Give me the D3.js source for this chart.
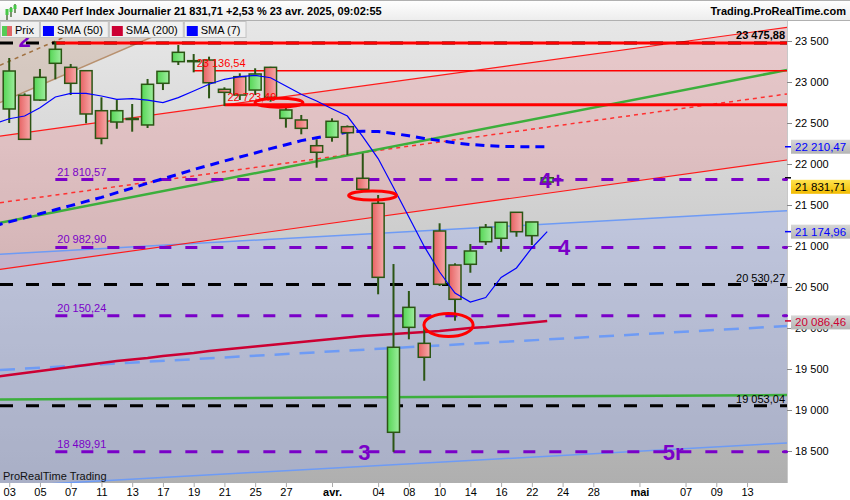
<!DOCTYPE html>
<html><head><meta charset="utf-8">
<script src="https://cdn.jsdelivr.net/npm/d3@7"></script>
<style>
body{margin:0;background:#fff;}
svg{display:block;font-family:"Liberation Sans",Arial,sans-serif;}
</style></head><body>
<svg id="c" width="850" height="500"></svg>
<script>
// ---------- DATA ----------
const opens  = [22671,22838,22780,23228,23179,23138,22650,22512,22555,22476,22984,23248,23260,23268,22911,23065,22902,23179,22557,22537,22223,22326,22455,21826,21521,18728,20008,19813,21183,20768,20777,21052,21094,21411,21126,21780];
const highs  = [23293,22862,23159,23491,23220,23146,22813,22780,22732,23037,23135,23451,23341,23309,22935,23106,23167,23185,22699,22598,22301,22557,22470,22130,21622,20780,20451,19996,21277,20789,21024,21268,21290,21415,21280,21835];
const lows   = [22500,22293,22770,23033,22841,22496,22240,22430,22394,22439,22902,23207,23118,22801,22707,22780,22841,22760,22443,22362,21955,22272,22110,21674,20411,18489.91,19862,19357,20512,20089,20674,21012,20930,21113,21012,21775];
const closes = [23134,22301,23057,23399,22984,22610,22313,22650,22545,22972,23130,23362,23252,22991,22874,22841,23098,22813,22659,22435,22143,22521,22382,21692,20618,19765,20252,19643,20533,20350,20939,21228,21289,21174,21293,21831.71];
// moving averages start one session before the first visible candle
const smaFirstIndex = -1;
const sma7   = [22490,22552,22585,22687,22817,22862,22862,22829,22789,22797,22780,22748,22809,22890,22972,23033,23065,23080,23052,22951,22850,22768,22674,22585,22334,22066,21713,21354,20995,20683,20427,20317,20372,20616,20732,20976,21174.96];
const sma50  = [21244,21294,21343,21394,21443,21492,21544,21593,21651,21706,21765,21820,21874,21933,21984,22037,22085,22134,22187,22235,22285,22320,22354,22390,22399,22396,22372,22344,22312,22285,22257,22238,22224,22215,22212,22211,22210.47];
const sma200 = [19402,19427,19451,19476,19500,19524,19549,19573,19598,19616,19634,19659,19677,19695,19720,19738,19756,19774,19793,19811,19829,19848,19866,19884,19902,19915,19927,19939,19951,19963,19982,20000,20012,20030,20048,20066,20086.46];

const xTickIdx = [0,2,4,6,8,10,12,14,16,18,21,24,26,28,30,32,34,36,38,41,44,46,48];
const xTickLab = ["03","05","07","11","13","17","19","21","25","27","avr.","04","08","10","14","16","22","24","28","mai","07","09","13"];
const monthLabels = ["avr.","mai"];
const yTicks = [23500,23000,22500,22000,21500,21000,20500,20000,19500,19000,18500];

// drawn levels  (value, first session index)
const purpleLevels = [21810.57, 20982.90, 20150.24, 18489.91];
const purpleStart = 3;
const blackLevels = [20530.27, 19053.04];
const redLevels = [23475.88, 23136.54, 22723.49];
const redStarts = [3, 12, 14];
const blackTopLevel = 23475.88;

// trend lines [i0, p0, i1, p1]
const chanTop  = [-0.6, 22341, 50.6, 23667];
const chanMid  = [-0.6, 21528, 50.6, 22854];
const chanBot  = [-0.6, 20716, 50.6, 22049];
const greenTrend = [-0.6, 21284, 50.6, 23146];
const greenFlat  = [-0.6, 19129, 50.6, 19182];
const blueTop  = [-0.6, 20899, 50.6, 21430];
const blueMid  = [-0.6, 19488, 50.6, 20024];
const blueBot  = [-0.6, 18067, 50.6, 18598];
const tanLine  = [-0.6, 22748, 12, 23767];
const brownDash= [-0.6, 23204, 6, 23745];

// ellipses [index, price, half-width in sessions, half-height in points]
const ellipses = [[17.55, 22748, 1.56, 55], [23.64, 21616, 1.56, 55], [28.58, 20037, 1.6, 140]];
// wave labels [index, price, text]
const waveLabels = [[1.0, 23520, "2"], [35.3, 21810.57, "4+"], [36.1, 20982.90, "4"], [23.1, 18489.91, "3"], [43.2, 18489.91, "5r"]];
const prevClose = 21293;

// ---------- SETUP ----------
const plotL=0, plotR=787, plotT=21, plotB=483;
const x = d3.scaleLinear().domain([-0.6, 50.6]).range([plotL, plotR]);
const y = d3.scaleLinear().domain([23500, 18500]).range([41, 451]);
const loc = d3.formatLocale({decimal:",", thousands:" ", grouping:[3], currency:["",""]});
const f2 = loc.format(",.2f"), f0 = loc.format(",.0f");
const PURPLE = "#7a00c8";

const svg = d3.select("#c");
const defs = svg.append("defs");
function lg(id, stops, vertical){
  const g = defs.append("linearGradient").attr("id", id)
    .attr("x1",0).attr("y1",0).attr("x2",vertical?0:1).attr("y2",vertical?1:0);
  stops.forEach(s=>g.append("stop").attr("offset",s[0]).attr("stop-color",s[1]));
}
lg("bgG", [[0,"#e7e7e7"],[1,"#afafaf"]], true);
lg("gG", [[0,"#55d555"],[1,"#9eee9e"]], false);
lg("rG", [[0,"#e66262"],[1,"#f7aaaa"]], false);
lg("titleG", [[0,"#ffffff"],[1,"#ececec"]], true);
lg("boxG", [[0,"#d6d6d6"],[1,"#b4b4b4"]], true);
lg("yelG", [[0,"#ffe34d"],[1,"#f2bb00"]], true);
defs.append("clipPath").attr("id","clip").append("rect")
  .attr("x",plotL).attr("y",plotT).attr("width",plotR-plotL).attr("height",plotB-plotT);

const plot = svg.append("g").attr("clip-path","url(#clip)");
plot.append("rect").attr("x",plotL).attr("y",plotT).attr("width",plotR-plotL).attr("height",plotB-plotT).attr("fill","url(#bgG)");

const line2 = d3.line().x(d=>x(d[0])).y(d=>y(d[1]));
const segPts = s => [[s[0],s[1]],[s[2],s[3]]];

// fills
const topPrice = y.invert(plotT-2);
{
  const s = tanLine;
  const slope = (s[3]-s[1])/(s[2]-s[0]);
  const iEnd = s[0] + (topPrice - s[1])/slope;
  plot.append("path").attr("d", line2([[s[0],s[1]],[iEnd,topPrice],[s[0],topPrice]])+"Z")
    .attr("fill","rgba(180,128,96,0.25)");
}
plot.append("path").attr("d", line2([[chanTop[0],chanTop[1]],[chanTop[2],chanTop[3]],[chanBot[2],chanBot[3]],[chanBot[0],chanBot[1]]])+"Z")
  .attr("fill","rgba(237,137,143,0.30)");
plot.append("path").attr("d", line2([[blueTop[0],blueTop[1]],[blueTop[2],blueTop[3]],[blueBot[2],blueBot[3]],[blueBot[0],blueBot[1]]])+"Z")
  .attr("fill","rgba(155,175,251,0.30)");

function drawSeg(s, color, w, dash){
  plot.append("path").attr("d", line2(segPts(s))).attr("fill","none")
    .attr("stroke",color).attr("stroke-width",w).attr("stroke-dasharray",dash||null);
}
drawSeg(tanLine, "#b8916f", 1.5);
drawSeg(brownDash, "#a0703f", 1.5, "4 4");
drawSeg(blueTop, "#6e9bf5", 1.5);
drawSeg(blueBot, "#6e9bf5", 1.5);
drawSeg(blueMid, "#6e9bf5", 2.5, "15 10");
drawSeg(chanTop, "#ff1a1a", 1.2);
drawSeg(chanBot, "#ff1a1a", 1.2);
drawSeg(chanMid, "#ff3030", 1.5, "4 4");
drawSeg(greenTrend, "#3caf3c", 2.5);
drawSeg(greenFlat, "#3caf3c", 2.5);

// horizontal levels
function hline(v, i0, color, w, dash){
  plot.append("line").attr("x1",x(i0)).attr("x2",plotR).attr("y1",y(v)).attr("y2",y(v))
    .attr("stroke",color).attr("stroke-width",w).attr("stroke-dasharray",dash||null);
}
hline(blackTopLevel, -0.6, "#000", 3, "13 13");
blackLevels.forEach(v=>hline(v, -0.6, "#000", 3, "13 13"));
purpleLevels.forEach(v=>hline(v, purpleStart, PURPLE, 3, "12 14"));
redLevels.forEach((v,k)=>hline(v, redStarts[k], "#ff0000", k===1?1.5:3));

// SMAs under candles
const smaLine = d3.line().x((d,k)=>x(k+smaFirstIndex)).y(d=>y(d));
plot.append("path").attr("d", smaLine(sma200)).attr("fill","none").attr("stroke","#cc0033").attr("stroke-width",2.5);
plot.append("path").attr("d", smaLine(sma50)).attr("fill","none").attr("stroke","#0000ff").attr("stroke-width",3).attr("stroke-dasharray","9 6");

// candles
const WICK = "#2b5514";
const bw = 12;
const cg = plot.append("g");
opens.forEach((o,i)=>{
  const c = closes[i], up = c >= o;
  const cx = x(i);
  cg.append("line").attr("x1",cx).attr("x2",cx).attr("y1",y(highs[i])).attr("y2",y(lows[i]))
    .attr("stroke",WICK).attr("stroke-width",2);
  const yt = y(Math.max(o,c)), yb = y(Math.min(o,c));
  cg.append("rect").attr("x",cx-bw/2).attr("y",yt).attr("width",bw).attr("height",Math.max(1,yb-yt))
    .attr("fill", up?"url(#gG)":"url(#rG)").attr("stroke",WICK).attr("stroke-width",1.5);
});

plot.append("path").attr("d", smaLine(sma7)).attr("fill","none").attr("stroke","#0000ff").attr("stroke-width",1.2);

// ellipses
ellipses.forEach(e=>{
  plot.append("ellipse").attr("cx",x(e[0])).attr("cy",y(e[1]))
    .attr("rx",x(e[0]+e[2])-x(e[0])).attr("ry",y(e[1]-e[3])-y(e[1]))
    .attr("fill","none").attr("stroke","#ff0000").attr("stroke-width",3);
});

// level labels
purpleLevels.forEach(v=>{
  plot.append("text").attr("x",x(purpleStart)+2).attr("y",y(v)-4).attr("font-size",11).attr("fill",PURPLE).text(f2(v));
});
redLevels.forEach((v,k)=>{
  if(k===0) return;
  plot.append("text").attr("x",x(redStarts[k])+3).attr("y",y(v)-4).attr("font-size",11).attr("fill","#ff0000").text(f2(v));
});
plot.append("text").attr("x",785).attr("y",y(redLevels[0])-4).attr("text-anchor","end").attr("font-size",11).attr("font-weight","bold").attr("fill","#000").text(f2(redLevels[0]));
blackLevels.forEach(v=>{
  plot.append("text").attr("x",785).attr("y",y(v)-3).attr("text-anchor","end").attr("font-size",11).attr("fill","#000").text(f2(v));
});
waveLabels.forEach(w=>{
  plot.append("text").attr("x",x(w[0])).attr("y",y(w[1])+8).attr("text-anchor","middle")
    .attr("font-size",22).attr("font-weight","bold").attr("fill",PURPLE).text(w[2]);
});
plot.append("text").attr("x",3).attr("y",480).attr("font-size",11).attr("fill","#111").text("ProRealTime Trading");

// ---------- AXES ----------
svg.append("rect").attr("x",plotR).attr("y",plotT).attr("width",850-plotR).attr("height",plotB-plotT+17).attr("fill","#fff");
svg.append("rect").attr("x",0).attr("y",plotB).attr("width",850).attr("height",500-plotB).attr("fill","#fff");
svg.append("line").attr("x1",plotR+0.5).attr("x2",plotR+0.5).attr("y1",plotT).attr("y2",plotB).attr("stroke","#c8c8c8");

const yAxis = d3.axisRight(y).tickValues(yTicks).tickSize(5).tickPadding(3).tickFormat(f0);
const ya = svg.append("g").attr("transform",`translate(${plotR},0)`).call(yAxis);
ya.select(".domain").remove();
ya.selectAll("line").attr("stroke","#888");
ya.selectAll("text").attr("font-size",11).attr("fill","#000").attr("font-family","Liberation Sans, Arial, sans-serif");

const xAxis = d3.axisBottom(x).tickValues(xTickIdx).tickSize(4).tickPadding(1).tickFormat((d,k)=>xTickLab[k]);
const xa = svg.append("g").attr("transform",`translate(0,${plotB})`).call(xAxis);
xa.select(".domain").remove();
xa.selectAll("line").attr("stroke","#aaa");
xa.selectAll("text").attr("font-size",11).attr("fill","#000").attr("font-family","Liberation Sans, Arial, sans-serif")
  .attr("font-weight",(d,k)=>monthLabels.includes(xTickLab[k])?"bold":null);

// value boxes on right axis
function valBox(v, fill, color, dy){
  const yy = y(v) + (dy||0);
  svg.append("line").attr("x1",plotR-2).attr("x2",plotR+4).attr("y1",y(v)).attr("y2",y(v)).attr("stroke",color).attr("stroke-width",1.5);
  svg.append("rect").attr("x",plotR+4).attr("y",yy-7).attr("width",850-plotR-4).attr("height",14).attr("fill",fill);
  svg.append("text").attr("x",plotR+8).attr("y",yy+4).attr("font-size",11.5).attr("fill",color).text(f2(v));
}
valBox(sma50[sma50.length-1], "url(#boxG)", "#0000ff");
valBox(closes[closes.length-1], "url(#yelG)", "#000", 9);
valBox(sma7[sma7.length-1], "url(#boxG)", "#0000ff");
valBox(sma200[sma200.length-1], "url(#boxG)", "#cc0033", 1.5);
purpleLevels.forEach(v=>svg.append("line").attr("x1",plotR-5).attr("x2",plotR+1).attr("y1",y(v)).attr("y2",y(v)).attr("stroke",PURPLE).attr("stroke-width",2));

// ---------- HEADER ----------
svg.append("rect").attr("x",0).attr("y",0).attr("width",850).attr("height",plotT).attr("fill","url(#titleG)");
svg.append("line").attr("x1",0).attr("x2",850).attr("y1",0.5).attr("y2",0.5).attr("stroke","#b0b0b0");
svg.append("line").attr("x1",0).attr("x2",850).attr("y1",plotT-0.5).attr("y2",plotT-0.5).attr("stroke","#b0b0b0");
// icon
[[7,11,17,9,15],[11,7,14,8,12],[15,4,10,5,9]].forEach(c=>{
  svg.append("line").attr("x1",c[0]).attr("x2",c[0]).attr("y1",c[1]).attr("y2",c[2]+3).attr("stroke",WICK).attr("stroke-width",1.2);
  svg.append("rect").attr("x",c[0]-1.5).attr("y",c[3]).attr("width",3).attr("height",c[4]-c[3]).attr("fill","#46c846");
});
const pct = (closes[closes.length-1]/prevClose - 1)*100;
svg.append("text").attr("x",23).attr("y",15).attr("font-size",11).attr("font-weight","bold").attr("fill","#000")
  .text(`DAX40 Perf Index Journalier ${f2(closes[closes.length-1])} +${loc.format(".2f")(pct)} % 23 avr. 2025, 09:02:55`);
svg.append("text").attr("x",846).attr("y",15).attr("text-anchor","end").attr("font-size",11).attr("font-weight","bold").attr("fill","#000").text("Trading.ProRealTime.com");

// legend
const legend = [{t:"Prix", c:null},{t:"SMA (50)", c:"#0000ff"},{t:"SMA (200)", c:"#cc0033"},{t:"SMA (7)", c:"#0000ff"}];
let lx = 0;
legend.forEach(it=>{
  const g = svg.append("g");
  const rect = g.append("rect").attr("x",lx+0.5).attr("y",plotT+0.5).attr("height",16).attr("fill","#f0f0f0").attr("stroke","#c4c4c4");
  if(it.c===null){
    g.append("rect").attr("x",lx+2).attr("y",plotT+5).attr("width",5).attr("height",10).attr("fill","#55cc55");
    g.append("rect").attr("x",lx+7).attr("y",plotT+5).attr("width",5).attr("height",10).attr("fill","#e06666");
  } else {
    g.append("rect").attr("x",lx+3).attr("y",plotT+5).attr("width",11).attr("height",10).attr("fill",it.c);
  }
  const tx = g.append("text").attr("x",lx+(it.c===null?15:17)).attr("y",plotT+13).attr("font-size",11).attr("fill","#000").text(it.t);
  const w = (it.c===null?15:17) + tx.node().getComputedTextLength() + 5;
  rect.attr("width", w);
  lx += w + 1;
});
</script>
</body></html>
